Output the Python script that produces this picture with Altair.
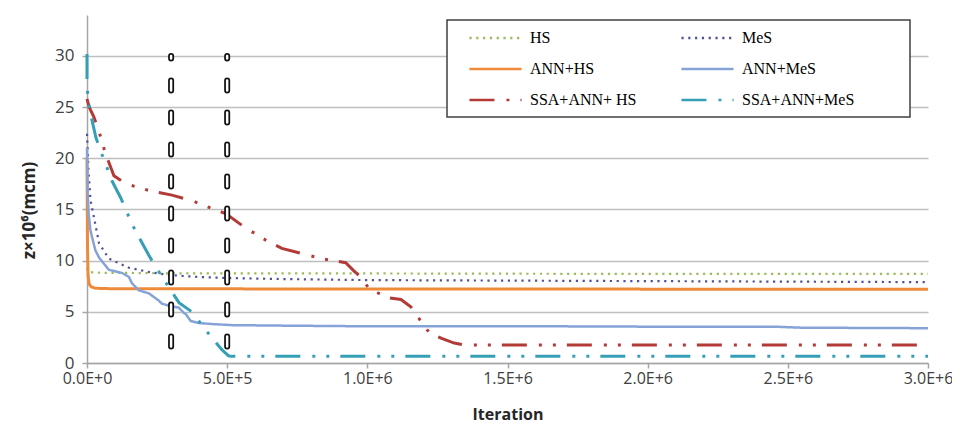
import altair as alt
import pandas as pd

series_names = ["HS", "MeS", "ANN+HS", "ANN+MeS", "SSA+ANN+ HS", "SSA+ANN+MeS"]
# legend fills column by column, so list column 1 first
legend_order = ["HS", "ANN+HS", "SSA+ANN+ HS", "MeS", "ANN+MeS", "SSA+ANN+MeS"]

hs_x = [0, 3000, 8000, 20000, 60000, 150000, 300000, 500000, 1000000, 2000000, 3000000]
hs_y = [9.3, 9.0, 8.9, 8.85, 8.8, 8.8, 8.75, 8.75, 8.75, 8.7, 8.7]

mes_x = [0, 5000, 12000, 25000, 43000, 78000, 150000, 220000, 292000, 400000, 500000,
         700000, 1000000, 1500000, 2000000, 2500000, 3000000]
mes_y = [22.4, 19.0, 16.0, 14.2, 11.7, 10.2, 9.3, 8.9, 8.6, 8.4, 8.3,
         8.2, 8.1, 8.05, 8.0, 7.95, 7.9]

annhs_x = [0, 1000, 2000, 4000, 8000, 15000, 30000, 100000, 3000000]
annhs_y = [20.0, 15.0, 11.0, 8.5, 7.7, 7.45, 7.3, 7.25, 7.2]

annmes_x = [0, 2000, 6000, 12000, 18000, 30000, 43000, 78000, 125000, 150000, 160000,
            185000, 221000, 231000, 256000, 267000, 292000, 328000, 345000, 352000,
            370000, 400000, 450000, 516000, 700000, 934000, 1500000, 2000000,
            2450000, 2550000, 3000000]
annmes_y = [21.0, 17.0, 14.5, 13.0, 12.3, 11.0, 10.3, 9.1, 8.8, 8.4, 7.8,
            7.1, 6.8, 6.6, 6.1, 5.8, 5.6, 5.4, 4.9, 4.8,
            4.1, 3.9, 3.8, 3.7, 3.65, 3.6, 3.6, 3.55,
            3.55, 3.45, 3.4]

ssahs_x = [0, 8000, 25000, 50000, 60000, 71000, 96000, 139000, 228000, 303000, 380000,
           445000, 495000, 560000, 638000, 695000, 780000, 837000, 923000, 950000,
           980000, 1005000, 1070000, 1120000, 1155000, 1180000, 1220000, 1265000,
           1310000, 1350000, 3000000]
ssahs_y = [25.8, 25.0, 24.0, 22.0, 21.0, 20.1, 18.3, 17.5, 16.8, 16.4, 15.8,
           15.1, 14.6, 13.3, 12.0, 11.2, 10.6, 10.2, 9.8, 9.05,
           8.3, 7.3, 6.4, 6.2, 5.5, 4.5, 3.0, 2.4,
           1.95, 1.75, 1.75]

ssames_x = [0, 0, 2000, 8000, 18000, 32000, 53000, 89000, 121000, 160000, 185000,
            221000, 246000, 292000, 328000, 374000, 424000, 481000, 505000, 513000, 3000000]
ssames_y = [30.2, 27.5, 26.4, 25.0, 23.7, 22.0, 20.4, 17.8, 16.1, 13.6, 12.3,
            10.5, 9.35, 7.4, 5.9, 5.0, 3.2, 1.3, 0.7, 0.65, 0.65]

vline_x = [300000, 500000]
vline_top = [30, 30]
vline_bottom = [0, 0]

x_ticks = [0, 500000, 1000000, 1500000, 2000000, 2500000, 3000000]
y_ticks = [0, 5, 10, 15, 20, 25, 30]

color_map = {"HS": "#9BBB59", "MeS": "#50509E", "ANN+HS": "#EE8B3A",
             "ANN+MeS": "#86A3D8", "SSA+ANN+ HS": "#B33B37", "SSA+ANN+MeS": "#35A0B5"}
dash_map = {"HS": [2.2, 4.6], "MeS": [2.2, 4.6], "ANN+HS": [1, 0], "ANN+MeS": [1, 0],
            "SSA+ANN+ HS": [25, 12, 3, 11, 3, 11], "SSA+ANN+MeS": [25, 12, 3, 11, 3, 11]}
colors = [color_map[s] for s in legend_order]
dashes = [dash_map[s] for s in legend_order]

rows = []
for name, xs, ys in zip(series_names,
                        [hs_x, mes_x, annhs_x, annmes_x, ssahs_x, ssames_x],
                        [hs_y, mes_y, annhs_y, annmes_y, ssahs_y, ssames_y]):
    for i, (xv, yv) in enumerate(zip(xs, ys)):
        rows.append({"series": name, "iteration": xv, "z": yv, "i": i})
df = pd.DataFrame(rows)

legend = alt.Legend(
    title=None, orient="none", legendX=360, legendY=-2, columns=2,
    symbolType="M-1.93,0H1.93", symbolSize=729, symbolStrokeWidth=2.5, symbolOffset=23.5,
    labelOffset=19.5, labelFont="Liberation Serif", labelFontSize=16, labelColor="black",
    rowPadding=8, columnPadding=32, padding=10, labelLimit=300,
)

x_enc = alt.X("iteration:Q",
              scale=alt.Scale(domain=[0, 3000000], nice=False),
              axis=alt.Axis(values=x_ticks,
                            labelExpr="upper(format(datum.value, '.1e'))",
                            grid=False, domainColor="#A6A6A6", domainWidth=1.5,
                            tickColor="#A6A6A6", tickSize=5, tickWidth=1.5,
                            labelFont="Open Sans", labelFontSize=16, labelColor="#404040",
                            labelPadding=2, labelFlush=False, labelOverlap=False,
                            title="Iteration", titleFont="Open Sans", titleFontSize=16,
                            titleFontWeight="bold", titleColor="#262626",
                            titleY=51, titleBaseline="middle"))
y_enc = alt.Y("z:Q",
              scale=alt.Scale(domain=[0, 34], nice=False),
              axis=alt.Axis(values=y_ticks, grid=True, gridColor="#BFBFBF", gridWidth=1.5,
                            domainColor="#A6A6A6", domainWidth=1.5,
                            tickColor="#A6A6A6", tickSize=5, tickWidth=1.5,
                            labelFont="Open Sans", labelFontSize=17, labelColor="#404040",
                            labelPadding=8,
                            title="z×10⁶(mcm)", titleFont="Open Sans", titleFontSize=17,
                            titleFontWeight="bold", titleColor="#262626",
                            titleX=-58, titleY=195, titleAngle=270,
                            titleBaseline="middle", titleAlign="center"))

lines = alt.Chart(df).mark_line().encode(
    x=x_enc,
    y=y_enc,
    color=alt.Color("series:N", scale=alt.Scale(domain=legend_order, range=colors), legend=legend),
    strokeDash=alt.StrokeDash("series:N", scale=alt.Scale(domain=legend_order, range=dashes), legend=legend),
    strokeWidth=alt.StrokeWidthValue(
        value=3,
        condition=[
            {"test": "datum.series == 'HS' || datum.series == 'MeS'", "value": 2.2},
            {"test": "datum.series == 'ANN+MeS'", "value": 2.5},
        ]),
    order="i:Q",
)

vdf = pd.DataFrame({"iteration": vline_x, "top": vline_top, "bottom": vline_bottom})
vblack = alt.Chart(vdf).mark_rule(color="#111111", strokeWidth=6, strokeCap="round",
                                   strokeDash=[10, 22], strokeDashOffset=7.5).encode(
    x="iteration:Q", y="top:Q", y2="bottom:Q")
vwhite = alt.Chart(vdf).mark_rule(color="white", strokeWidth=2.5, strokeCap="round",
                                   strokeDash=[10, 22], strokeDashOffset=7.5).encode(
    x="iteration:Q", y="top:Q", y2="bottom:Q")

box = alt.Chart(pd.DataFrame({"a": [0]})).mark_rect(
    fill="white", stroke="#404040", strokeWidth=1.5).encode(
    x=alt.value(360), x2=alt.value(823), y=alt.value(5), y2=alt.value(102))

chart = alt.layer(lines, vblack, vwhite, box).properties(
    width=841, height=348,
    autosize=alt.AutoSizeParams(type="none"),
    padding={"left": 79, "top": 7, "right": 24, "bottom": 61},
    background="white",
).configure_view(stroke=None)

chart.save("out.html", embed_options={"renderer": "svg", "actions": False})
